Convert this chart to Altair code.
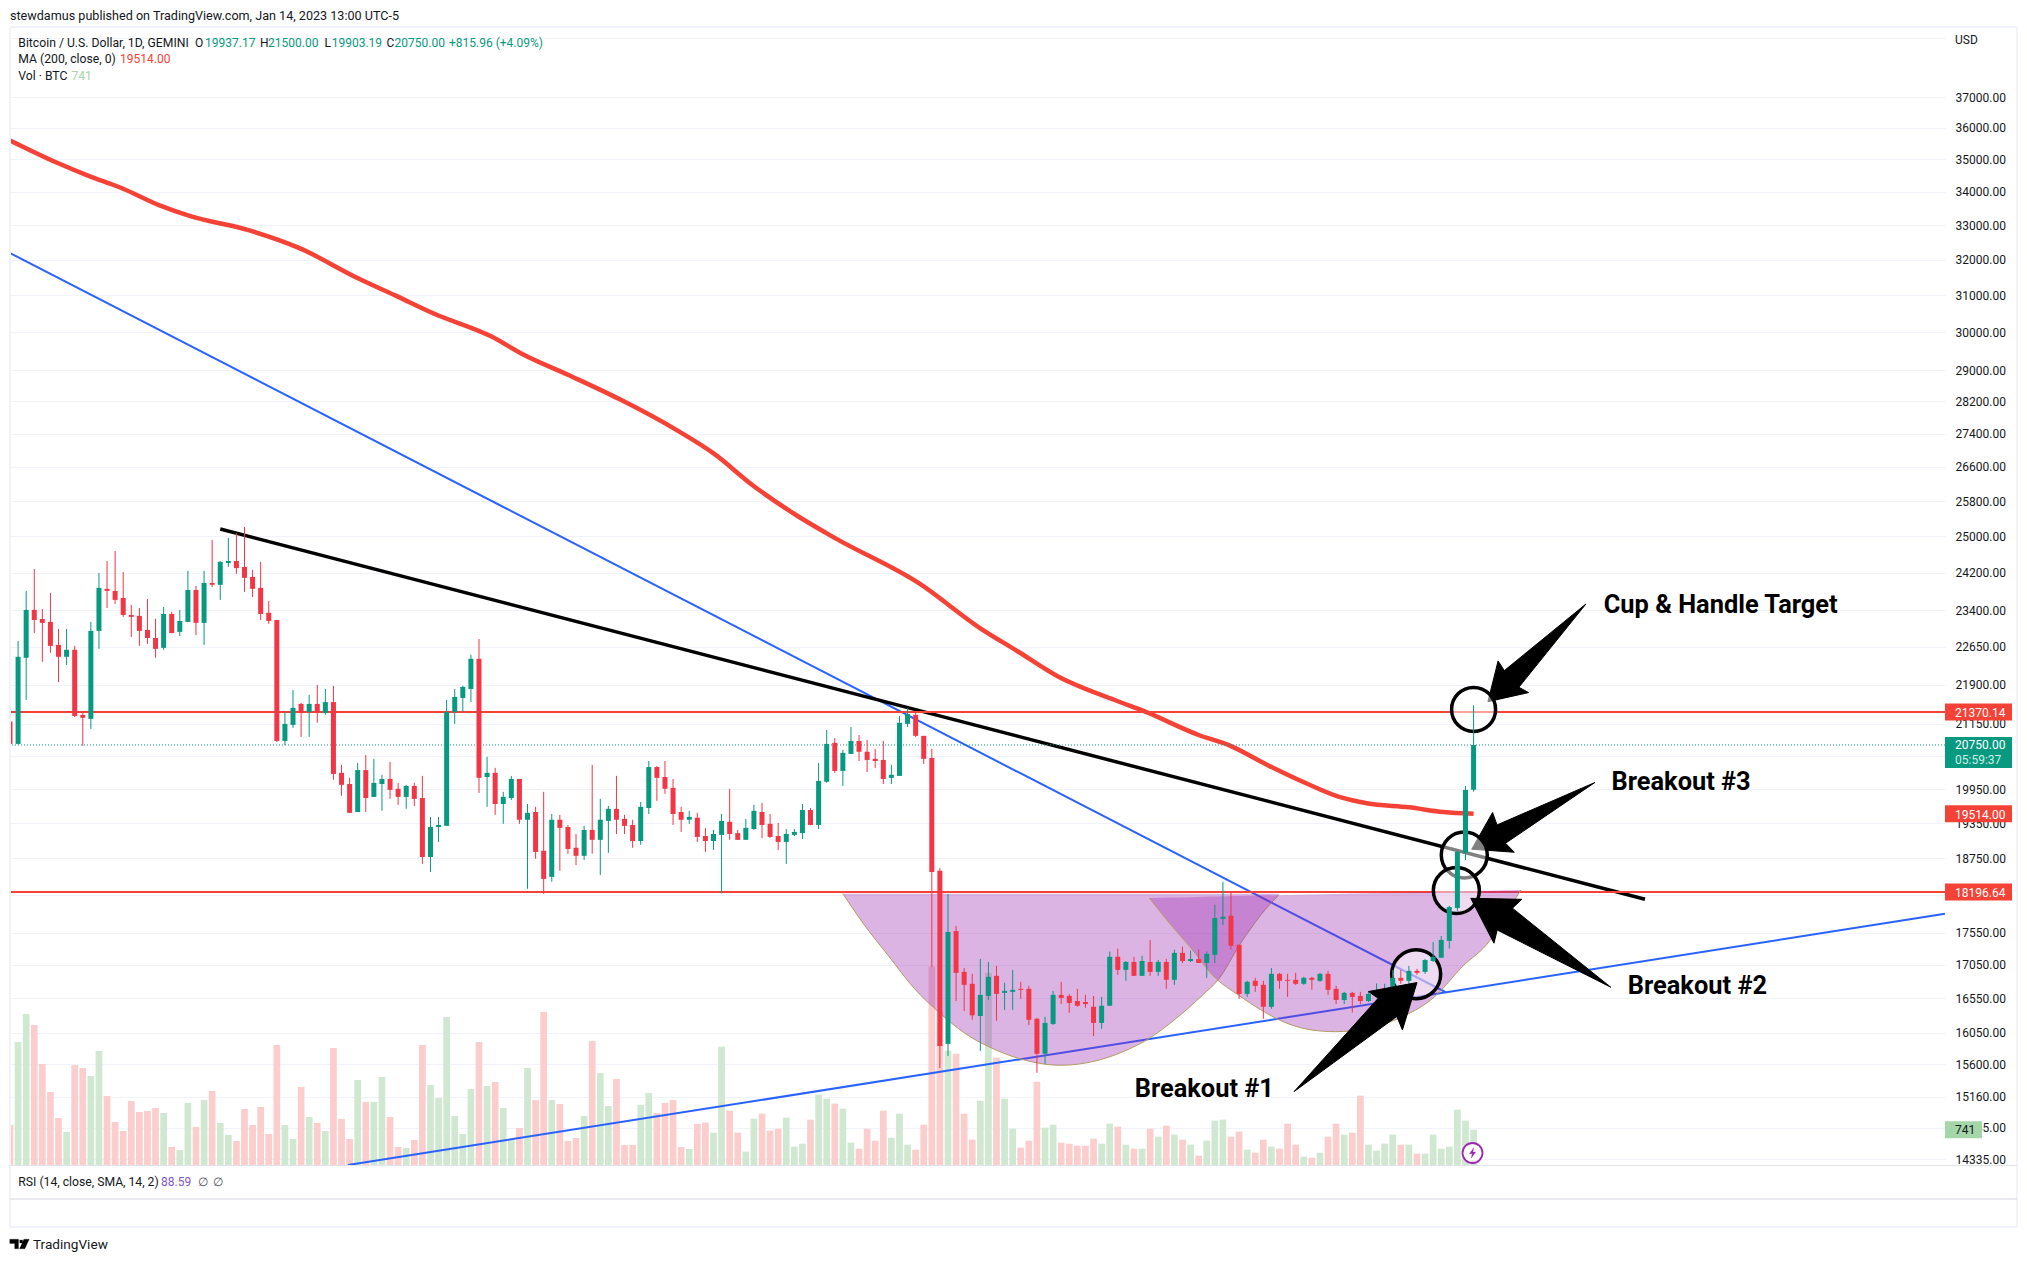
import altair as alt
import pandas as pd

# ---------- values ----------
FIRST_DATE = "2022-07-17"
OPEN = [21190,20770,22430,23410,23220,23160,22690,22450,22590,21315,21240,22975,23855,23810,23660,23305,23285,22995,22830,22630,
23325,22955,23160,23830,23140,23980,23940,24410,24455,24325,24110,23875,23350,23200,20825,21125,21525,21370,21525,21350,
21560,20240,20040,19545,20290,19810,20040,20130,19955,19810,20005,19790,18775,19285,19305,21370,21640,21815,22410,20165,
20240,19685,19790,20130,19410,19545,18880,18445,19410,19285,18930,18795,19235,19065,19390,19600,19425,19320,19045,19615,
20345,20165,19970,19545,19410,19445,
19130,19045,19150,19375,19180,19065,19250,19545,19340,19130,19030,19150,19180,19580,19320,20080,20790,20275,20585,20825,
20625,20495,20475,20150,20185,21145,21315,20920,20510,18545,15890,17575,16945,16765,16290,16585,16885,16630,16645,16690,
16690,16250,15750,16175,16600,16585,16510,16495,16425,16190,16440,17175,16975,17095,16885,17095,16945,17095,16825,17235,
17110,17140,17080,17205,17765,17815,17360,16615,16810,16750,16425,16915,16825,16825,16765,16855,16810,16915,16690,16525,
16630,16585,16510,16600,16645,16660,16855,16810,16960,16945,17110,17160,17420,17940,18845,19937.17]
HIGH = [21665,22770,23810,24280,23430,23770,23015,23015,22670,21350,23160,24195,24455,24675,24215,23515,23450,23640,23225,23470,
23370,23410,24240,23915,24240,24920,24455,24965,25075,25210,24260,24435,23595,23200,21370,21795,21545,21700,21895,21815,
21875,20385,20150,20420,20565,20495,20205,20440,20060,20025,20060,20185,19460,19460,21600,21815,21875,22490,22810,20530,
20330,19900,20185,20130,19685,19635,19900,19510,19495,19320,19165,19305,20385,19775,19650,20185,19495,19410,19720,20455,
20365,20455,20130,19635,19565,19530,
19265,19235,19510,19955,19235,19425,19670,19705,19510,19355,19250,19250,19685,19615,20420,21030,20880,20660,21085,20935,
20845,20680,20825,20385,21295,21450,21370,20920,20680,18590,18165,17655,17005,16915,17140,17095,17035,16780,16975,16795,
16735,16265,16280,16660,16795,16615,16690,16600,16585,16570,17255,17300,17110,17175,17190,17435,17125,17140,17285,17330,
17270,17285,17255,17990,18365,18200,17360,16810,16855,16810,17005,16930,16915,16930,16870,16870,16930,16960,16735,16645,
16645,16645,16645,16770,16765,16975,16975,17035,16990,17140,17405,17495,17975,18880,20005,21500.00]
LOW = [20750,20760,21600,22930,22350,22530,21950,22285,21275,20735,21050,22610,23450,23535,23265,22850,22670,22710,22430,22590,
22930,22870,23160,22890,22690,23895,23620,24325,24175,23790,23680,23200,23120,20805,20750,21070,20900,20900,21165,21315,
20115,19830,19530,19545,19545,19810,19565,19775,19670,19600,19650,18660,18525,19030,19305,21145,21370,21560,19880,19635,
19495,19340,19755,19340,18250,18745,18165,18365,18545,18830,18640,18725,18830,18475,18845,19165,19165,18930,18980,19510,
19740,19865,19320,19200,19340,19030,
18860,18895,18175,19065,19065,19065,19235,19095,19095,18895,18660,19130,19080,19315,19250,20060,20240,20005,20585,20455,
20255,20330,20040,20040,20185,21085,20900,20400,17020,15550,15720,16510,16365,16235,15790,16525,16220,16380,16380,16540,
16160,15485,15610,16160,16465,16335,16425,16410,16000,16105,16440,16900,16810,16885,16885,16885,16885,16690,16750,17080,
17095,17080,16855,17080,17670,17285,16540,16570,16645,16250,16395,16690,16570,16750,16750,16675,16795,16600,16465,16465,
16340,16465,16495,16570,16600,16645,16765,16765,16900,16915,17095,17160,17300,17895,18725,19903.19]
CLOSE = [20770,22450,23410,23200,23140,22670,22450,22590,21295,21260,22975,23875,23810,23620,23305,23265,22975,22830,22610,23325,
22930,23180,23830,23140,23980,23940,24435,24455,24300,24090,23855,23325,23180,20825,21145,21450,21370,21525,21370,21560,
20220,20025,19530,20290,19790,20060,20130,19935,19810,20005,19775,18775,19285,19320,21370,21660,21855,22410,20150,20240,
19685,19810,20130,19410,19530,18860,18410,19410,19270,18910,18795,19235,19065,19410,19600,19410,19305,19045,19635,20345,
20150,19955,19510,19410,19460,19115,
19045,19165,19390,19165,19065,19270,19565,19320,19115,19030,19165,19200,19580,19320,20095,20770,20275,20605,20825,20625,
20475,20455,20130,20205,21165,21330,20920,20495,18525,15860,17560,16930,16750,16300,16600,16870,16615,16660,16675,16675,
16235,15750,16190,16600,16555,16480,16440,16465,16190,16440,17175,16975,17095,16885,17110,16945,17095,16825,17235,17110,
17140,17080,17220,17780,17800,17345,16615,16795,16735,16425,16915,16810,16810,16765,16855,16825,16915,16675,16525,16630,
16570,16510,16615,16660,16675,16855,16810,16960,16930,17125,17175,17435,17955,18860,19935,20750.00]
VOLUME = [840,2583,3171,2940,2121,1533,987,693,2100,2037,1869,2394,1449,903,714,1344,1113,1134,1197,1092,
378,315,1302,798,1365,1554,882,630,504,1176,840,1218,651,2520,840,546,1638,1008,882,714,
2457,966,546,1785,1323,1323,1848,1008,378,357,525,2520,1680,1407,3108,1029,651,1596,2583,1659,
1743,1197,525,777,2037,1365,3213,1365,1281,504,567,1029,2604,1932,1239,1806,420,420,1260,1512,
1092,1302,1365,378,336,861,
889,679,2485,1141,679,280,973,1078,721,763,994,385,448,952,1477,1393,1288,1183,469,343,
763,511,1141,574,1078,427,322,847,4170,3200,2400,2338,1078,532,1351,4039,2254,1393,763,364,
511,1750,784,847,469,448,406,406,553,448,868,805,427,343,343,763,595,826,637,532,
427,196,511,931,952,595,700,322,259,532,385,343,868,427,175,154,259,595,868,637,
679,1456,427,301,448,637,427,427,238,238,637,343,385,1162,931,741]

# 200-day moving average: days after 21 Jul 2022, price
MA_DAYS = [-4,1.9,5.8,9.7,14.5,18.4,25.5,31.8,38.9,43.7,48.4,55.5,59.4,65,71.3,78.4,83.1,87.8,93.4,98.1,108.4,
           116,120.7,125.5,132.6,136.4,143,146.8,151.5,156.3,160.5,163.8,169,173.3,177]
MA_VALS = [35600,34889,34484,34126,33593,33265,32859,32336,31493,30993,30502,29886,29414,28878,28264,27492,26908,26172,25457,24954,23975,
           23029,22552,22069,21600,21376,20936,20744,20383,20052,19805,19697,19626,19545,19514]

PRICE_TICKS = [39000,37000,36000,35000,34000,33000,32000,31000,30000,29000,28200,27400,26600,25800,25000,24200,23400,22650,21900,21150,
               20550,19950,19350,18750,18150,17550,17050,16550,16050,15600,15160,14745,14335]
COVERED_TICKS = [39000,20550,18150]
TIME_TICKS = [("2022-07-21","21"),("2022-08-01","Aug"),("2022-08-15","15"),("2022-09-01","Sep"),("2022-09-12","12"),
              ("2022-10-01","Oct"),("2022-10-17","17"),("2022-11-01","Nov"),("2022-11-14","14"),("2022-12-01","Dec"),
              ("2022-12-12","12"),("2022-12-22","22"),("2023-01-01","2023"),("2023-01-16","16"),("2023-02-01","Feb"),
              ("2023-02-13","13"),("2023-03-01","Mar"),("2023-03-13","13")]

# trend lines: (days after 21 Jul 2022, price)
BLUE_DOWN = [(-4,32194),(173.5,16643)]
BLUE_UP = [(37.8,14261),(235.3,17847)]
BLACK_LINE = [(22.0,25164),(198.2,18080)]
RESISTANCE = [21370.14,18196.64]
LAST_CLOSE = 20750.00

CUP_DAYS = [99.0,101.5,104.7,107.8,111.0,114.1,117.9,121.7,125.9,129.9,133.7,136.9,140.0,143.5,145.4,148.2,150.7,152.9]
CUP_LOW = [18170,17697,17179,16700,16331,16040,15805,15655,15589,15640,15782,15969,16234,16600,16824,17384,17830,18150]
CUP_TOP = [18170]*18
HANDLE_DAYS = [136.9,139.4,141.9,145.1,147.9,150.7,153.9,157.0,159.9,164.0,167.8,172.2,175.6,179.06,181.07,182.85]
HANDLE_LOW = [18100,17697,17331,16849,16600,16380,16186,16088,16064,16113,16259,16575,17024,17434,17859,18230]
HANDLE_TOP = [18100,18107,18114,18123,18131,18139,18148,18156,18165,18176,18187,18199,18209,18219,18225,18230]

ARROW_TARGET = [(190.9,23535),(180.8,22175),(180.03,22367),(178.77,21568),(183.8,21744),(182.6,21848)]
ARROW_3 = [(192.0,20066),(179.9,19321),(179.35,19536),(176.77,18906),(182.04,18855),(180.95,19007)]
ARROW_2 = [(193.97,16714),(181.81,17936),(182.96,18079),(176.65,18095),(179.52,17384),(179.92,17590)]
ARROW_1 = [(154.8,15227),(165.2,16550),(164.0,16650),(170.0,16784),(168.2,16088),(167.5,16283)]
CIRCLE_TARGET = (177.0,21420)
CIRCLES_BREAK = [(175.85,18810),(174.87,18220),(169.9,16909)]

# ---------- styles / helpers ----------
RED,GREEN,LINE_RED,INK,GRID,FRAME = "#f23645","#089981","#f44336","#131722","#f0f3fa","#e0e3eb"
BLUE,CUPFILL,CUPEDGE = "#2962ff","#9c27b0","#b39a62"
PINK,MINT = "#fbcdcd","#d0e8d1"
FONT = "Roboto"
PX0,PY0,W,H = 10,27,1935,1138
DAY = 86400000
BASE = int(pd.Timestamp("2022-07-21",tz="UTC").timestamp()*1000)
def ms(d): return BASE + d*DAY
T_START,T_END = ms(-4), ms(235.3)
TIME = alt.Scale(type="utc",domain=[T_START,T_END],nice=False,padding=0)
PRICE = alt.Scale(type="log",domain=[14261,39394],nice=False,zero=False)
VOLSCALE = alt.Scale(type="linear",domain=[0,23898],nice=False,zero=False)
ONE = alt.Data(values=[{"a":1}])
def Xt(f="t"): return alt.X(f,type="temporal",scale=TIME,axis=None,title=None)
def Yp(f="p"): return alt.Y(f,type="quantitative",scale=PRICE,axis=None,title=None)
def pts(seq): return pd.DataFrame({"i":range(len(seq)),"t":[ms(a) for a,_ in seq],"p":[b for _,b in seq]})

def label(s,x,y,color=INK,size=12,weight="normal",align="left",font=FONT):
    return alt.Chart(ONE).mark_text(font=font,fontSize=size,fontWeight=weight,color=color,align=align,baseline="middle").encode(
        x=alt.value(x-PX0),y=alt.value(y-PY0),text=alt.value(s))
def prule(x1,x2,y,color,w):
    return alt.Chart(ONE).mark_rule(color=color,strokeWidth=w).encode(x=alt.value(x1-PX0),x2=alt.value(x2-PX0),y=alt.value(y-PY0))
def vrule(x,y1,y2,color,w):
    return alt.Chart(ONE).mark_rule(color=color,strokeWidth=w).encode(x=alt.value(x-PX0),y=alt.value(y1-PY0),y2=alt.value(y2-PY0))
def arrow(seq):
    closed = seq+[seq[0]]
    return alt.Chart(pts(closed)).mark_line(stroke="black",fill="black",strokeWidth=1,interpolate="linear").encode(
        x=Xt(),y=Yp(),order=alt.Order("i:Q"))
def tline(seq,color,w):
    return alt.Chart(pts(seq)).mark_line(color=color,strokeWidth=w).encode(x=Xt(),y=Yp())
def circle(c,d,w=3.5):
    df = pd.DataFrame({"t":[ms(c[0])],"p":[c[1]]})
    return alt.Chart(df).mark_point(shape="circle",fill="white",fillOpacity=0.5,stroke="black",strokeWidth=w,opacity=1,size=d*d).encode(x=Xt(),y=Yp())

# ---------- data frames ----------
n = len(OPEN)
assert len(HIGH)==n and len(LOW)==n and len(CLOSE)==n and len(VOLUME)==n, (n,len(HIGH),len(LOW),len(CLOSE),len(VOLUME))
start = int(pd.Timestamp(FIRST_DATE,tz="UTC").timestamp()*1000)
df = pd.DataFrame({"t":[start+i*DAY for i in range(n)],"o":OPEN,"h":HIGH,"l":LOW,"c":CLOSE,"v":VOLUME})
df["up"] = df.c>=df.o
cc = alt.condition("datum.up",alt.value(GREEN),alt.value(RED))
vc = alt.condition("datum.up",alt.value(MINT),alt.value(PINK))

tick_ms = [int(pd.Timestamp(d,tz="UTC").timestamp()*1000) for d,_ in TIME_TICKS]
label_map = "{"+",".join(f"'{d}':'{t}'" for d,t in TIME_TICKS)+"}[utcFormat(datum.value,'%Y-%m-%d')]"
bold_ms = int(pd.Timestamp("2023-01-01",tz="UTC").timestamp()*1000)
covered = "||".join(f"datum.value=={v}" for v in COVERED_TICKS)

# ---------- axes & grid ----------
axes = alt.Chart(pd.DataFrame({"t":tick_ms[:len(PRICE_TICKS)]+[tick_ms[0]]*max(0,len(PRICE_TICKS)-len(tick_ms)),"p":PRICE_TICKS})).mark_point(opacity=0).encode(
    x=alt.X("t",type="temporal",scale=TIME,title=None,axis=alt.Axis(
        values=tick_ms,labelExpr=label_map,orient="bottom",grid=True,gridColor=GRID,gridWidth=1,
        domain=False,ticks=False,labelPadding=48,labelBaseline="middle",labelFont=FONT,labelFontSize=12,labelColor=INK,
        labelOverlap=False,labelFlush=False,labelBound=False,
        labelFontWeight={"condition":{"test":f"datum.value=={bold_ms}","value":"bold"},"value":"normal"})),
    y=alt.Y("p",type="quantitative",scale=PRICE,title=None,axis=alt.Axis(
        values=PRICE_TICKS,orient="right",grid=True,gridColor=GRID,gridWidth=1,domain=False,ticks=False,
        labelPadding=10,labelFont=FONT,labelFontSize=12,labelColor=INK,labelOverlap=False,labelFlush=False,labelBound=False,
        labelExpr=f"({covered})?'':format(datum.value,'.2f')")))

# ---------- series ----------
volume = alt.Chart(df).mark_bar(size=6.7,clip=True).encode(
    x=Xt(),y=alt.Y("v",type="quantitative",scale=VOLSCALE,axis=None,title=None),color=vc)
wick = alt.Chart(df).mark_rule(strokeWidth=1,clip=True).encode(x=Xt(),y=Yp("l"),y2=alt.Y2("h"),color=cc)
body = alt.Chart(df).mark_bar(size=5,clip=True).encode(x=Xt(),y=Yp("o"),y2=alt.Y2("c"),color=cc)
ma = alt.Chart(pd.DataFrame({"t":[ms(d) for d in MA_DAYS],"p":MA_VALS})).mark_line(color=LINE_RED,strokeWidth=4.5,clip=True,interpolate="monotone").encode(x=Xt(),y=Yp())
res = alt.Chart(pd.DataFrame({"p":RESISTANCE})).mark_rule(color=LINE_RED,strokeWidth=2).encode(y=Yp())
dot = alt.Chart(pd.DataFrame({"p":[LAST_CLOSE]})).mark_rule(color=GREEN,strokeWidth=1,strokeDash=[1,2]).encode(y=Yp())

def cup(days,low,top):
    d = pd.DataFrame({"t":[ms(x) for x in days],"p":low,"q":top})
    return [alt.Chart(d).mark_area(color=CUPFILL,opacity=0.35,interpolate="monotone").encode(x=Xt(),y=Yp(),y2=alt.Y2("q")),
            alt.Chart(d).mark_line(color=CUPEDGE,strokeWidth=1,interpolate="monotone").encode(x=Xt(),y=Yp())]

# ---------- price tags ----------
def tag(price,text,color,x2=2012,w=17,txt="white"):
    d = pd.DataFrame({"p":[price]})
    r = alt.Chart(d).mark_rule(color=color,strokeWidth=w).encode(x=alt.value(1945-PX0),x2=alt.value(x2-PX0),y=Yp())
    t = alt.Chart(d).mark_text(font=FONT,fontSize=12,color=txt,align="left",baseline="middle",dy=1).encode(x=alt.value(1955-PX0),y=Yp(),text=alt.value(text))
    return [r,t]
ctag = alt.Chart(pd.DataFrame({"p":[LAST_CLOSE]})).mark_rule(color=GREEN,strokeWidth=31,yOffset=7.5).encode(x=alt.value(1945-PX0),x2=alt.value(2012-PX0),y=Yp())
ctxt = alt.Chart(pd.DataFrame({"p":[LAST_CLOSE]})).mark_text(font=FONT,fontSize=12,color="white",align="left",baseline="middle").encode(x=alt.value(1955-PX0),y=Yp(),text=alt.value("20750.00"))
ctxt2 = alt.Chart(pd.DataFrame({"p":[LAST_CLOSE]})).mark_text(font=FONT,fontSize=12,color="#cdeee7",align="left",baseline="middle",dy=15).encode(x=alt.value(1955-PX0),y=Yp(),text=alt.value("05:59:37"))
vtag = alt.Chart(pd.DataFrame({"v":[741]})).mark_rule(color="#a5d6a7",strokeWidth=17).encode(x=alt.value(1945-PX0),x2=alt.value(1982-PX0),
        y=alt.Y("v",type="quantitative",scale=VOLSCALE,axis=None,title=None))
vtxt = alt.Chart(pd.DataFrame({"v":[741]})).mark_text(font=FONT,fontSize=12,color=INK,align="left",baseline="middle").encode(x=alt.value(1955-PX0),
        y=alt.Y("v",type="quantitative",scale=VOLSCALE,axis=None,title=None),text=alt.value("741"))

# ---------- lightning marker and logo ----------
BOLT = "M0.25,-1 L-0.6,0.15 L-0.05,0.15 L-0.25,1 L0.6,-0.2 L0.05,-0.2 Z"
LOGO = "M-1,-0.5 H-0.1 V0.5 H-0.5 V-0.05 H-1 Z M0.02,-0.42 H0.32 V-0.1 H0.02 Z M0.45,-0.5 H1 L0.55,0.5 H0 Z"
def sym(shape,x,y,size,**kw):
    return alt.Chart(ONE).mark_point(shape=shape,opacity=1,**kw).encode(x=alt.value(x-PX0),y=alt.value(y-PY0),size=alt.value(size))
icon = [sym("circle",1472.5,1153,400,fill="white",stroke=CUPFILL,strokeWidth=1.8),
        sym(BOLT,1472.5,1153,110,fill=CUPFILL,stroke=CUPFILL,strokeWidth=0.3)]
logo = sym(LOGO,19.5,1244,380,fill="#000000",stroke="#000000",strokeWidth=0.2)

# ---------- frame ----------
frame = [prule(10,2017,27,GRID,2),prule(10,2017,1227,GRID,2),vrule(10,27,1227,GRID,2),vrule(2017,27,1227,GRID,2),
         prule(10,2017,1165.5,FRAME,1),prule(10,2017,1199,FRAME,1.5)]

# ---------- legend text ----------
texts = [
 label("stewdamus published on TradingView.com, Jan 14, 2023 13:00 UTC-5",10,16,size=12.6),
 label("Bitcoin / U.S. Dollar, 1D, GEMINI",18.3,43,size=12.2),
 label("O",195,43),label("19937.17",205,43,GREEN),
 label("H",260,43),label("21500.00",268,43,GREEN),
 label("L",324.5,43),label("19903.19",331.7,43,GREEN),
 label("C",386.6,43),label("20750.00",394.6,43,GREEN),
 label("+815.96 (+4.09%)",449,43,GREEN),
 label("MA (200, close, 0)",18.3,59,size=12.2),label("19514.00",120,59,LINE_RED),
 label("Vol · BTC",18.3,76,size=12.2),label("741",71.4,76,"#a5d6a7"),
 label("RSI (14, close, SMA, 14, 2)",18.3,1182,size=12.2),label("88.59",161,1182,"#7e57c2"),
 label("∅",198,1182,"#50535e"),label("∅",213,1182,"#50535e"),
 label("USD",1955,40),
 label("TradingView",33,1245,size=13.6),
]
annot = [
 label("Cup & Handle Target",1603.7,605,"black",25.4,"bold"),
 label("Breakout #3",1611.5,782,"black",25.4,"bold"),
 label("Breakout #2",1627.8,986,"black",25.4,"bold"),
 label("Breakout #1",1134.7,1089,"black",25.4,"bold"),
]
mask13 = prule(1945,1952,1213,"white",14)

layers = [axes,volume,
          tline(BLUE_DOWN,BLUE,2),tline(BLUE_UP,BLUE,2),tline(BLACK_LINE,"black",3.5),ma,res,dot,
          *cup(CUP_DAYS,CUP_LOW,CUP_TOP),*cup(HANDLE_DAYS,HANDLE_LOW,HANDLE_TOP),
          arrow(ARROW_TARGET),arrow(ARROW_3),
          circle(CIRCLE_TARGET,44),circle(CIRCLES_BREAK[0],46),circle(CIRCLES_BREAK[1],46),circle(CIRCLES_BREAK[2],49),
          wick,body,
          arrow(ARROW_2),arrow(ARROW_1),
          mask13,*frame,
          *tag(21370.14,"21370.14",LINE_RED),*tag(19514.00,"19514.00",LINE_RED),*tag(18196.64,"18196.64",LINE_RED),
          ctag,ctxt,ctxt2,vtag,vtxt,*icon,logo,*texts,*annot]

chart = alt.layer(*layers).resolve_scale(y="independent").properties(
    width=W,height=H,
    padding={"left":2,"top":19,"right":74,"bottom":89},
    autosize=alt.AutoSizeParams(type="none"),
    background="white",
).configure_view(stroke=None)

chart.save("out.html", embed_options={"renderer": "svg", "actions": False})
